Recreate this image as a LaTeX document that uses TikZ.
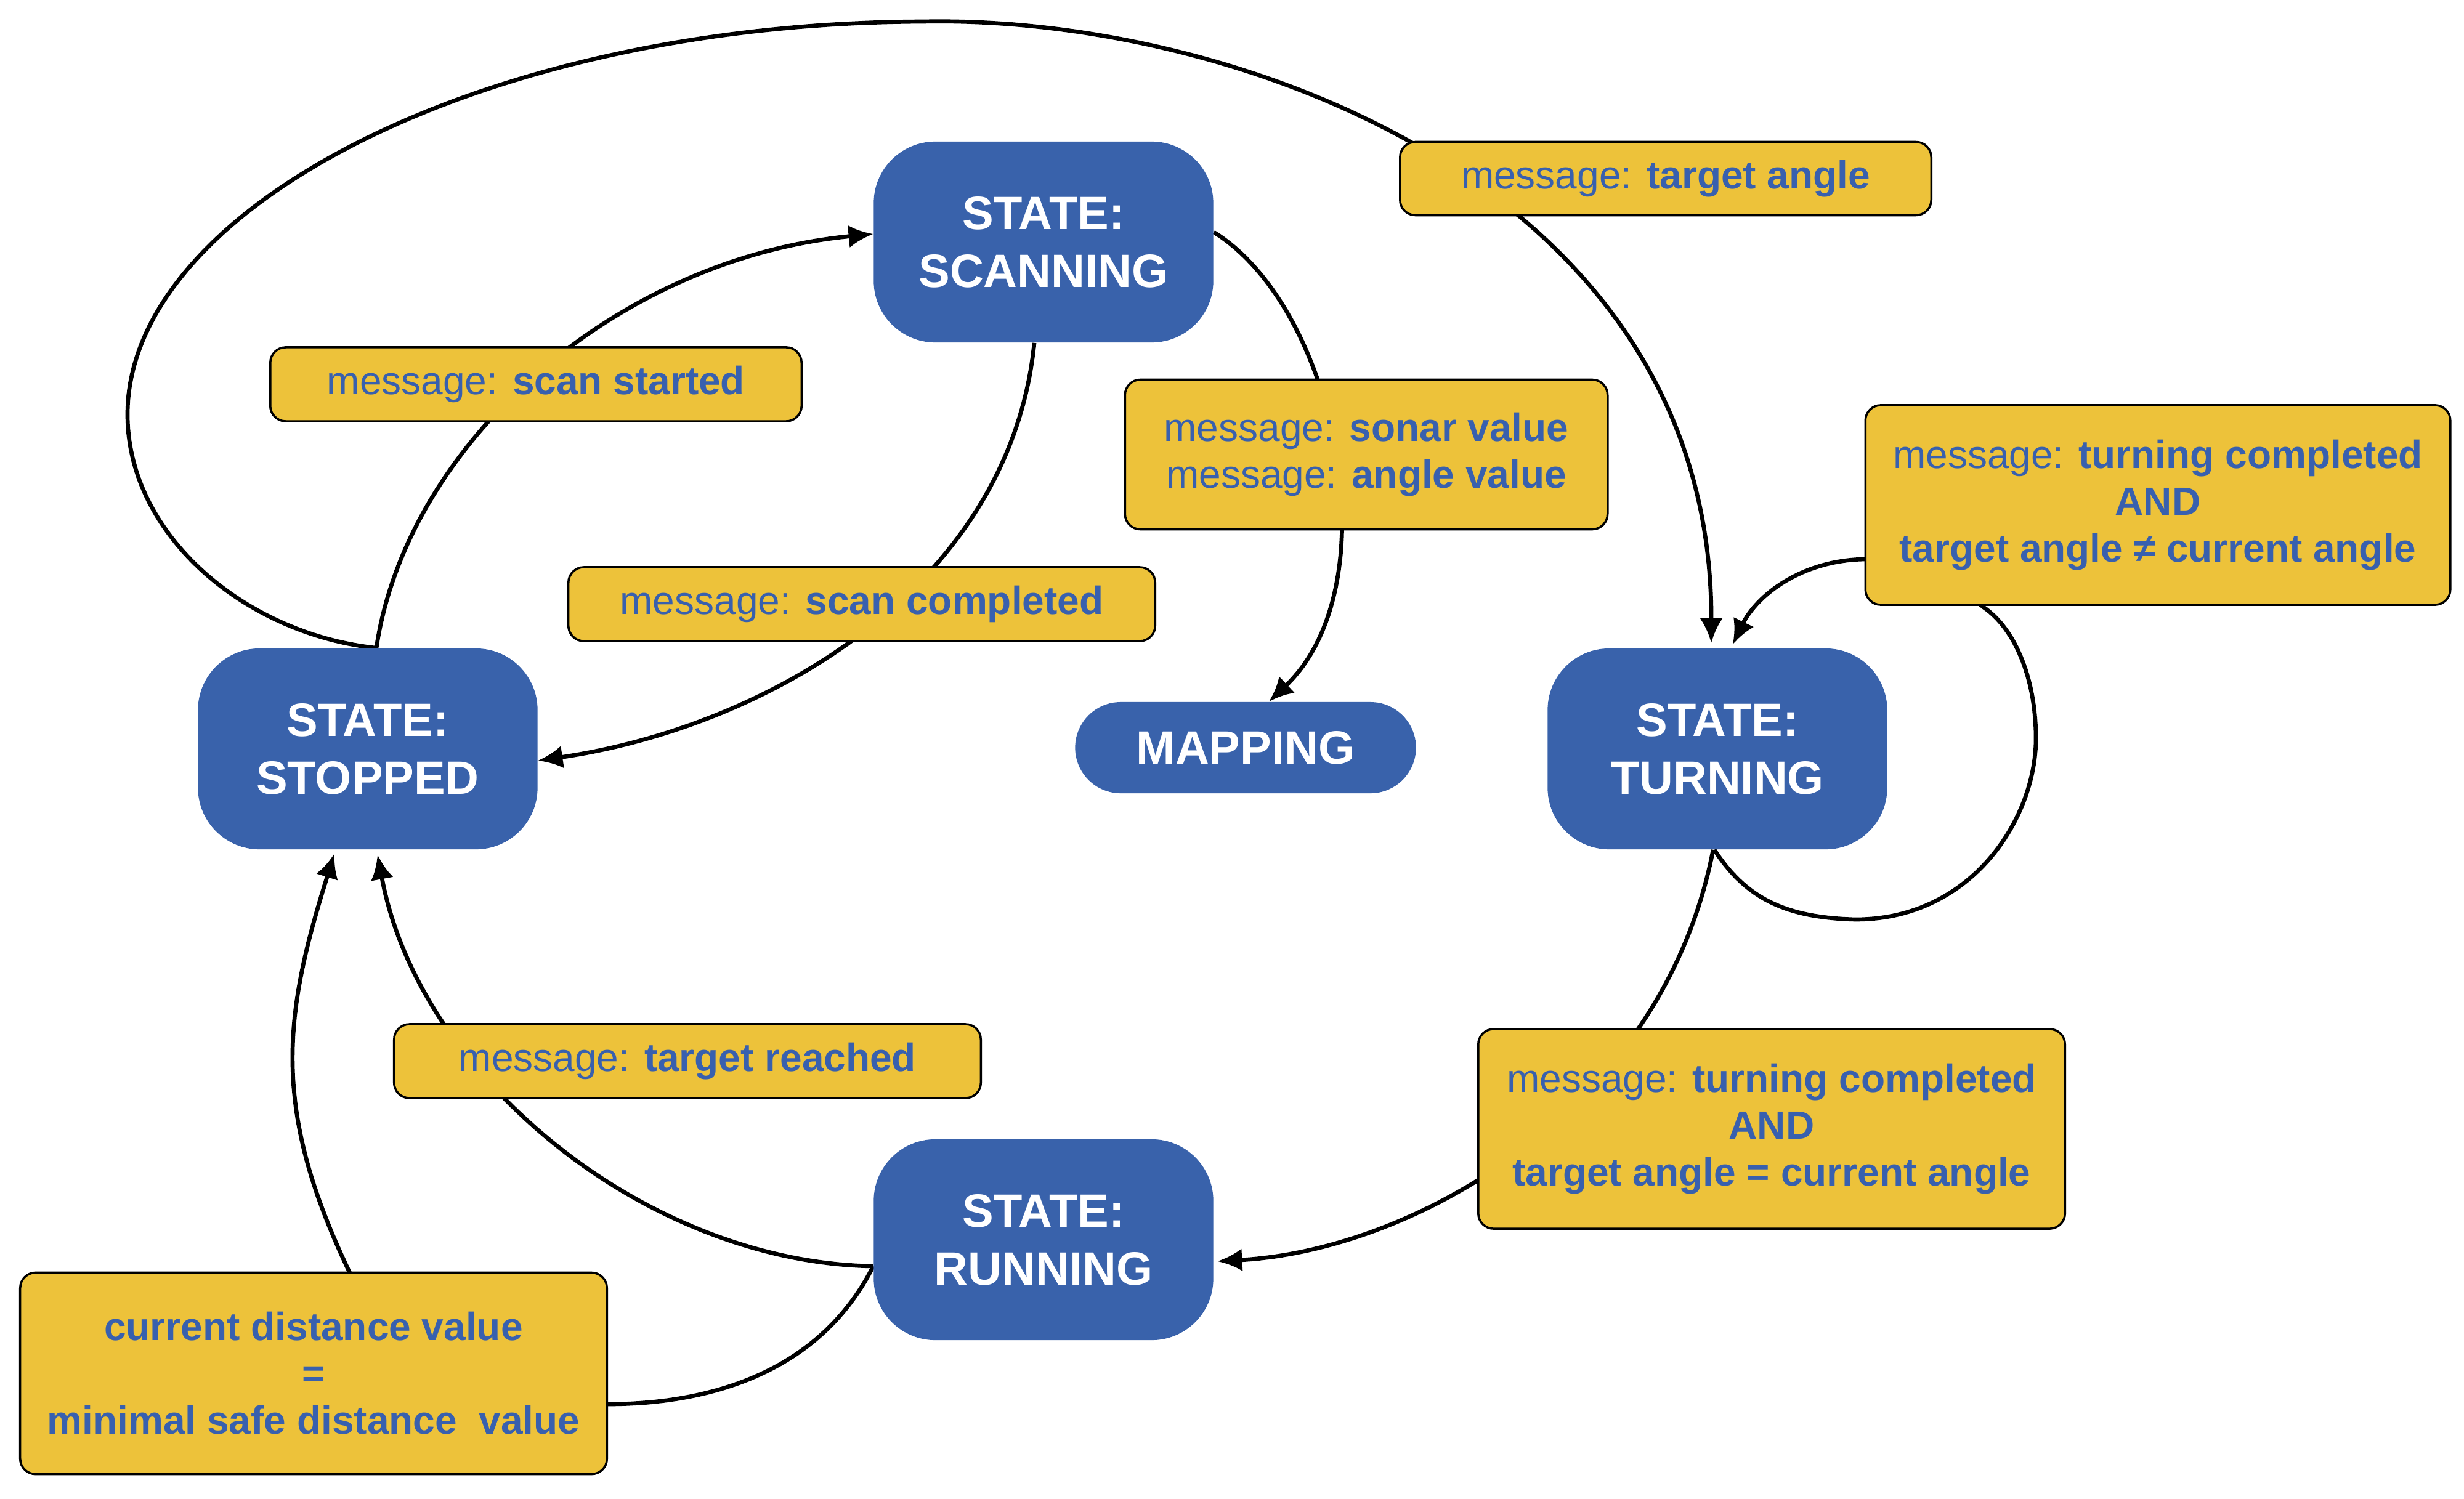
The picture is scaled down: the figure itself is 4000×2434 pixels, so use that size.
\documentclass[tikz,border=0pt]{standalone}
\usepackage{fontspec}
\setmainfont{Liberation Sans}
\usetikzlibrary{arrows.meta,calc}
\definecolor{stateblue}{RGB}{57,98,171}
\definecolor{labelyellow}{RGB}{237,194,58}
\definecolor{textblue}{RGB}{56,96,174}
\pgfdeclarelayer{bg}
\pgfsetlayers{bg,main}
\newcommand{\msgword}{{\mdseries message:} }
\tikzset{
  statebox/.style={fill=stateblue, draw=none, rounded corners=1cm,
    minimum width=5.51cm, minimum height=3.26cm, align=center, text=white,
    inner sep=0pt, font=\fontsize{21.6pt}{26.7pt}\selectfont\bfseries},
  pillbox/.style={fill=stateblue, draw=none, rounded corners=0.74cm,
    minimum width=5.53cm, minimum height=1.48cm, text=white, inner sep=0pt,
    font=\fontsize{21.6pt}{26.7pt}\selectfont\bfseries},
  msgbox/.style={fill=labelyellow, draw=black, line width=1pt,
    rounded corners=0.25cm, align=center, text=textblue, inner sep=0pt,
    font=\fontsize{18.2pt}{21.6pt}\selectfont\bfseries},
  conn/.style={draw=black, line width=1.9pt,
    -{Latex[length=0.4cm,width=0.37cm]}}
}
\begin{document}
\begin{tikzpicture}[x=0.01cm,y=-0.01cm]
\useasboundingbox (0,0) rectangle (4000,2434);

% states
\node[statebox] (scanning) at (1694,393) {STATE:\\SCANNING};
\node[statebox] (stopped)  at (597,1216) {STATE:\\STOPPED};
\node[statebox] (turning)  at (2788,1216) {STATE:\\TURNING};
\node[statebox] (running)  at (1694,2013) {STATE:\\RUNNING};
\node[pillbox]  (mapping)  at (2022,1214) {MAPPING};

% labels
\node[msgbox, minimum width=8.62cm, minimum height=1.19cm] (lTA) at (2704,290) {\msgword target angle};
\node[msgbox, minimum width=8.62cm, minimum height=1.20cm] (lSS) at (870,624) {\msgword scan started};
\node[msgbox, minimum width=7.83cm, minimum height=2.43cm] (lSV) at (2218,738) {\msgword sonar value\\\msgword angle value};
\node[msgbox, minimum width=9.49cm, minimum height=3.24cm] (lTN) at (3503,820) {\msgword turning completed\\AND\\target angle ≠ current angle};
\node[msgbox, minimum width=9.52cm, minimum height=1.20cm] (lSC) at (1399,981) {\msgword scan completed};
\node[msgbox, minimum width=9.52cm, minimum height=1.20cm] (lTR) at (1116,1723) {\msgword target reached};
\node[msgbox, minimum width=9.52cm, minimum height=3.24cm] (lTE) at (2876,1833) {\msgword turning completed\\AND\\target angle = current angle};
\node[msgbox, minimum width=9.52cm, minimum height=3.27cm] (lCD) at (509,2230) {current distance value\\=\\minimal safe distance\ \ value};

\begin{pgfonlayer}{bg}
% stopped -> scanning
\draw[conn] ($(stopped.north)+(14,0)$) .. controls (660,720) and (1000,420) .. ($(scanning.west)+(0,-13)$);
% scanning -> stopped
\draw[conn] ($(scanning.south)+(-15,0)$) .. controls (1640,950) and (1250,1180) .. ($(stopped.east)+(0,19)$);
% scanning -> mapping
\draw[conn] ($(scanning.east)+(0,-16)$) .. controls (2170,500) and (2260,950) .. ($(mapping.north)+(38,0)$);
% stopped -> turning (big loop)
\draw[conn] ($(stopped.north)+(14,0)$) .. controls (400,1030) and (207,870) .. (207,673)
  .. controls (207,340) and (780,38) .. (1499,35)
  .. controls (2000,25) and (2780,300) .. ($(turning.north)+(-10,-8)$);
% turning self loop
\draw[conn] ($(turning.south)+(-5,0)$) .. controls (2835,1460) and (2900,1490) .. (3012,1493)
  .. controls (3200,1493) and (3305,1330) .. (3305,1199)
  .. controls (3305,1100) and (3270,1020) .. (3220,986)
  .. controls (3150,930) and (3080,908) .. (3027,908)
  .. controls (2920,910) and (2850,970) .. ($(turning.north)+(25,-6)$);
% turning -> running
\draw[conn] ($(turning.south)+(-7,0)$) .. controls (2700,1800) and (2300,2030) .. ($(running.east)+(6,35)$);
% running -> stopped (target reached)
\draw[conn] ($(running.west)+(0,43)$) .. controls (1050,2050) and (680,1750) .. ($(stopped.south)+(16,8)$);
% running -> stopped (distance)
\draw[conn] ($(running.west)+(0,43)$) .. controls (1330,2230) and (1150,2280) .. (986,2280)
  .. controls (700,2280) and (600,2150) .. (568,2067)
  .. controls (440,1800) and (460,1650) .. ($(stopped.south)+(-54,6)$);
\end{pgfonlayer}
\end{tikzpicture}
\end{document}
